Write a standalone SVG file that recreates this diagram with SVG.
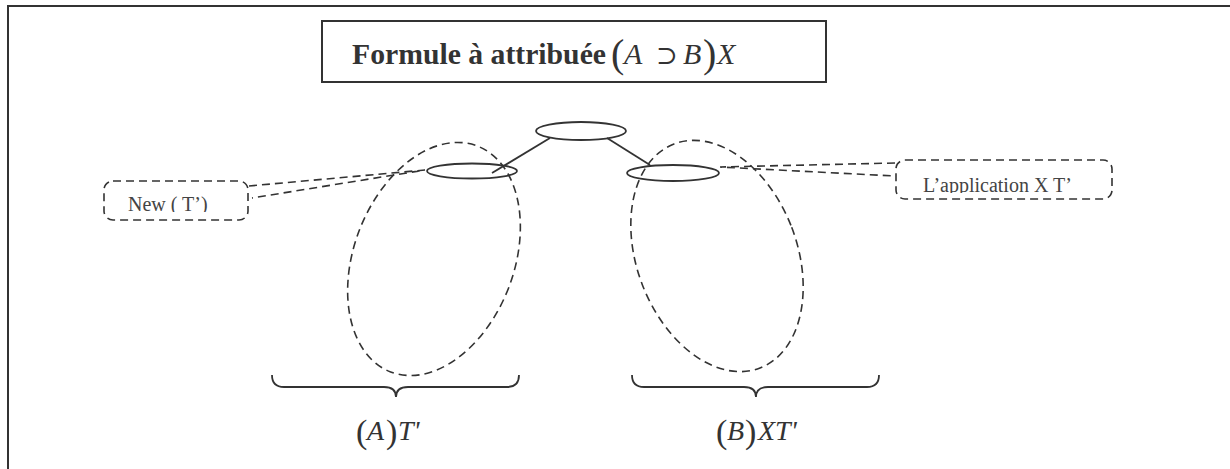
<svg xmlns="http://www.w3.org/2000/svg" width="1230" height="469" viewBox="0 0 1230 469">
<style>
.frame{fill:none;stroke:#333;stroke-width:2}
.solid{fill:none;stroke:#333;stroke-width:1.8}
.dash{fill:none;stroke:#333;stroke-width:1.6;stroke-dasharray:8 5}
.serif{font-family:"Liberation Serif","DejaVu Serif",serif;fill:#333}
.lbl{font-family:"Liberation Serif",serif;font-size:20px;fill:#444}
.it{font-style:italic}
</style>
<defs>
<clipPath id="clipNew"><rect x="100" y="180" width="150" height="32"/></clipPath>
<clipPath id="clipApp"><rect x="895" y="160" width="220" height="33"/></clipPath>
</defs>
<rect width="1230" height="469" fill="#fff"/>
<path class="frame" d="M8,469 V6 H1230"/>

<g id="title">
<rect x="322" y="21" width="504" height="61" class="frame"/>
<text class="serif" x="352" y="64" font-weight="bold" font-size="29" textLength="254" lengthAdjust="spacingAndGlyphs">Formule à attribuée</text>
<text class="serif" x="611" y="67" font-size="40">(</text>
<text class="serif it" x="624" y="64" font-size="30">A</text>
<text class="serif" x="656" y="64" font-size="26">⊃</text>
<text class="serif it" x="683" y="64" font-size="30">B</text>
<text class="serif" x="703" y="67" font-size="40">)</text>
<text class="serif it" x="717" y="64" font-size="30">X</text>
</g>

<g id="root"><ellipse cx="581" cy="131" rx="45" ry="9" class="solid"/></g>
<g id="leftNode"><ellipse cx="472" cy="171" rx="45" ry="7.5" class="solid"/></g>
<g id="rightNode"><ellipse cx="673" cy="173" rx="46" ry="8" class="solid" stroke-width="2.6"/></g>

<g id="groupA"><ellipse cx="434" cy="259" rx="80" ry="121" transform="rotate(21 434 259)" class="dash"/></g>
<g id="groupB"><ellipse cx="717" cy="256" rx="80" ry="120" transform="rotate(-21 717 256)" class="dash"/></g>

<g id="newBox">
<rect x="104" y="181" width="144" height="39" rx="9" class="dash"/>
<text class="lbl" x="128" y="211" clip-path="url(#clipNew)">New ( T’)</text>
</g>
<g id="appBox">
<rect x="896" y="160" width="216" height="39" rx="9" class="dash"/>
<text class="lbl" x="923" y="192" clip-path="url(#clipApp)">L’application X T’</text>
</g>

<g id="connectors">
<line x1="550" y1="138" x2="492" y2="173" class="solid"/>
<line x1="607" y1="138" x2="650" y2="165" class="solid"/>
<polyline points="249,186 425,170 252,198" class="dash"/>
<polyline points="895,163 720,167 895,176" class="dash"/>
</g>

<g id="braceA">
<path class="solid" d="M272,375 Q272,387 284,387 H384 Q396,387 396,397 Q396,387 408,387 H507 Q519,387 519,375"/>
<text class="serif" x="356" y="443" font-size="34">(</text>
<text class="serif it" x="367" y="440" font-size="28">A</text>
<text class="serif" x="386" y="443" font-size="34">)</text>
<text class="serif it" x="398" y="440" font-size="28">T'</text>
</g>
<g id="braceB">
<path class="solid" d="M632,375 Q632,387 644,387 H744 Q756,387 756,397 Q756,387 768,387 H867 Q879,387 879,375"/>
<text class="serif" x="716" y="443" font-size="34">(</text>
<text class="serif it" x="727" y="440" font-size="28">B</text>
<text class="serif" x="745" y="443" font-size="34">)</text>
<text class="serif it" x="758" y="440" font-size="28">XT'</text>
</g>
</svg>
